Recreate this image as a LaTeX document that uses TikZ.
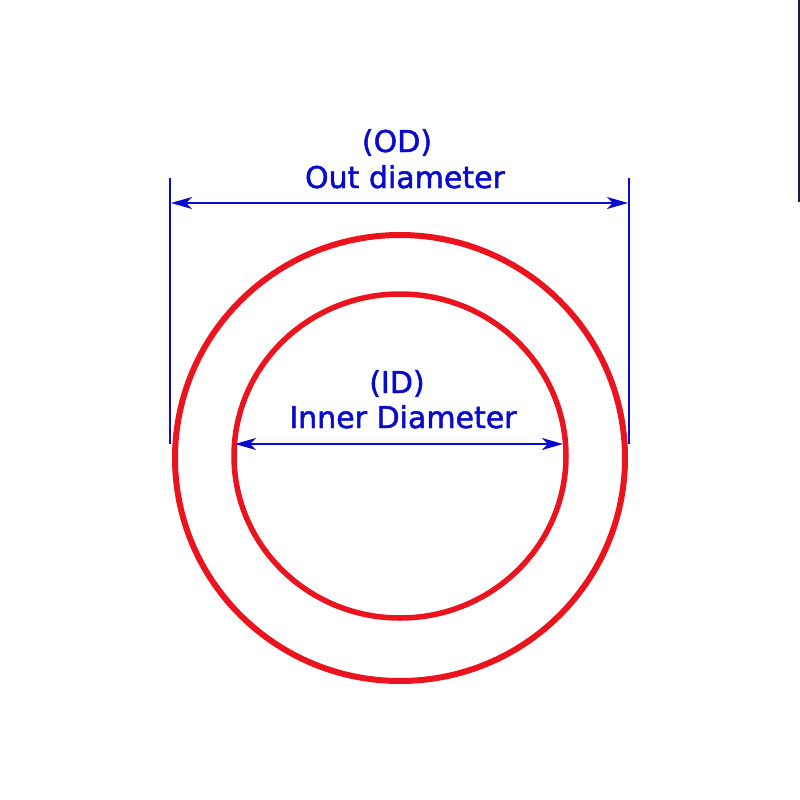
\documentclass[tikz,border=0pt]{standalone}
\usepackage{fontspec}
\setmainfont{DejaVu Sans}
\newfontfamily\dimfont{DejaVu Sans}[FakeBold=1.6]
\usetikzlibrary{arrows.meta}
\definecolor{dimblue}{RGB}{10,10,205}
\definecolor{ringred}{RGB}{235,20,30}
\definecolor{edgenavy}{RGB}{30,30,60}
\tikzset{
    ring/.style={draw=ringred, line width=6pt},
    dimline/.style={draw=dimblue, line width=1.8pt},
    dimarrow/.style={dimline, {Stealth[length=21pt,width=12pt,inset=6pt]}-{Stealth[length=21pt,width=12pt,inset=6pt]}},
    dimtext/.style={text=dimblue, font=\dimfont\fontsize{30}{36}\selectfont, anchor=base, inner sep=0pt}
}

\begin{document}
\begin{tikzpicture}[x=1pt, y=-1pt]
    \useasboundingbox[fill=white] (0,0) rectangle (800,800);

    \draw[ring] (400,458) ellipse[x radius=225, y radius=223];
    \draw[ring, line width=5.5pt] (400,456) ellipse[x radius=166, y radius=162];

    \coordinate (od-top-l) at (170,178);
    \coordinate (od-bot-l) at (170,444);
    \coordinate (od-top-r) at (629,178);
    \coordinate (od-bot-r) at (629,444);
    \coordinate (od-l) at (171,203);
    \coordinate (od-r) at (628,203);
    \coordinate (id-l) at (235,444);
    \coordinate (id-r) at (563,444);
    \coordinate (edge-top) at (799,0);
    \coordinate (edge-bot) at (799,202);

    \draw[dimline] (od-top-l) -- (od-bot-l);
    \draw[dimline] (od-top-r) -- (od-bot-r);
    \draw[dimarrow] (od-l) -- (od-r);
    \draw[dimarrow] (id-l) -- (id-r);
    \draw[edgenavy, line width=2pt] (edge-top) -- (edge-bot);

    \node[dimtext] (od-abbr) at (397,152) {(OD)};
    \node[dimtext] (od-name) at (405,188) {Out diameter};
    \node[dimtext] (id-abbr) at (397,393) {(ID)};
    \node[dimtext] (id-name) at (403,428) {Inner Diameter};
\end{tikzpicture}
\end{document}
